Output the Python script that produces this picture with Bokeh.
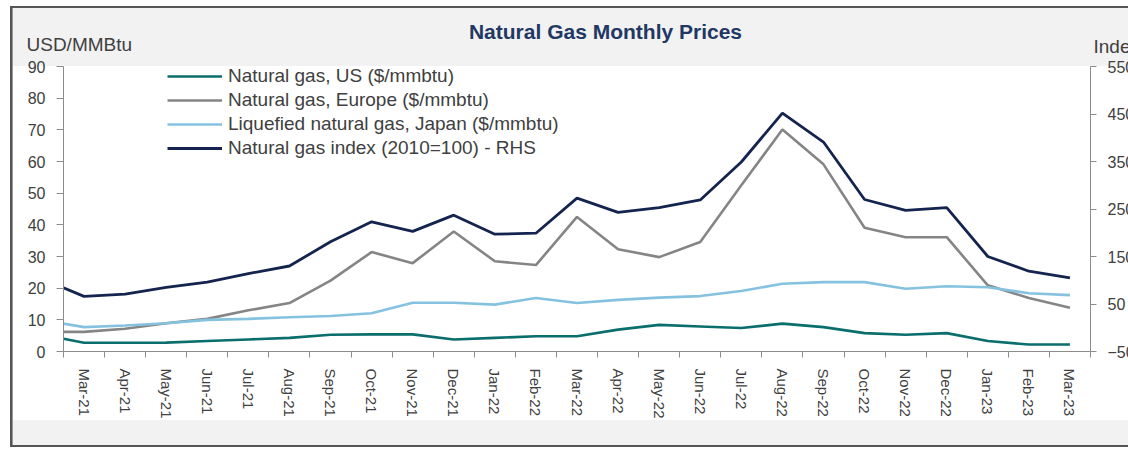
from bokeh.plotting import figure
from bokeh.models import (Range1d, LinearAxis, FixedTicker, Legend, LegendItem, Label, BoxAnnotation)
from bokeh.embed import file_html
from bokeh.resources import INLINE

months = ["Feb-21", "Mar-21", "Apr-21", "May-21", "Jun-21", "Jul-21", "Aug-21", "Sep-21",
          "Oct-21", "Nov-21", "Dec-21", "Jan-22", "Feb-22", "Mar-22", "Apr-22", "May-22",
          "Jun-22", "Jul-22", "Aug-22", "Sep-22", "Oct-22", "Nov-22", "Dec-22", "Jan-23",
          "Feb-23", "Mar-23"]
gas_us = [5.3, 2.75, 2.75, 2.8, 3.3, 3.8, 4.3, 5.3, 5.4, 5.4, 3.8, 4.3, 4.8, 4.8, 6.9, 8.4,
          7.9, 7.4, 8.8, 7.7, 5.8, 5.3, 5.8, 3.3, 2.2, 2.2]
gas_europe = [6.2, 6.2, 7.2, 8.9, 10.3, 13.0, 15.3, 22.4, 31.4, 27.9, 37.9, 28.5, 27.3, 42.5,
              32.3, 29.8, 34.6, 52.5, 70.1, 59.1, 39.1, 36.1, 36.1, 20.9, 16.9, 13.8]
lng_japan = [9.9, 7.7, 8.2, 8.9, 10.0, 10.3, 10.8, 11.2, 12.1, 15.4, 15.4, 14.8, 16.9, 15.3,
             16.3, 17.0, 17.5, 19.1, 21.4, 21.9, 21.9, 19.8, 20.6, 20.3, 18.4, 17.8]
gas_index = [102, 66, 71, 85, 96, 114, 130, 181, 223, 203, 237, 197, 199, 273, 243, 253,
             269, 349, 452, 391, 270, 247, 253, 150, 119, 105]

left_ticks = [0, 10, 20, 30, 40, 50, 60, 70, 80, 90]
right_ticks = [-50, 50, 150, 250, 350, 450, 550]

series_names = ["Natural gas, US ($/mmbtu)", "Natural gas, Europe ($/mmbtu)",
                "Liquefied natural gas, Japan ($/mmbtu)", "Natural gas index (2010=100) - RHS"]
colors = ["#0a6e6c", "#858585", "#85c2e0", "#14244f"]

xs = list(range(-1, len(months) - 1))  # Feb-21 sits one slot before Mar-21 (hidden left of axis)
n_shown = len(months) - 1

FONT = "Liberation Sans"

# ---- layout (pixels) ----
W, H = 1128, 450
frame_l, frame_t = 13, 8                       # drawing frame covers the whole chart area
axis_l, axis_r, axis_t, axis_b = 63, 1090, 66, 351   # where the visible axes sit
cat_px = (axis_r - axis_l) / n_shown
y_px = (axis_b - axis_t) / 90.0
x_start = -0.5 - (axis_l - frame_l) / cat_px
x_end = n_shown - 0.5 + (W - axis_r) / cat_px
y_start = -(H - axis_b) / y_px
y_end = (axis_b - frame_t) / y_px
idx_k = 600 / 90.0
idx_start = -50 + y_start * idx_k
idx_end = -50 + y_end * idx_k

bg = ("linear-gradient(#555555,#555555) 10px 6px / 2px 441px no-repeat, "
      "linear-gradient(#9a9a9a,#9a9a9a) 12px 8px / 1px 437px no-repeat, "
      "linear-gradient(#555555,#555555) 10px 6px / 1118px 2px no-repeat, "
      "linear-gradient(#555555,#555555) 10px 445px / 1118px 2px no-repeat, "
      "linear-gradient(#f2f2f2,#f2f2f2) 13px 8px / 1115px 58px no-repeat, "
      "linear-gradient(#f2f2f2,#f2f2f2) 13px 420px / 1115px 25px no-repeat, "
      "#ffffff")

p = figure(width=W, height=H, output_backend="svg", toolbar_location=None,
           x_range=Range1d(x_start, x_end), y_range=Range1d(y_start, y_end),
           min_border_left=frame_l, min_border_right=0, min_border_top=frame_t,
           min_border_bottom=0, styles={"background": bg})
p.border_fill_alpha = 0
p.background_fill_alpha = 0
p.outline_line_color = None
p.grid.visible = False
p.extra_y_ranges = {"idx": Range1d(idx_start, idx_end)}

axis_color = "#8c8c8c"
label_color = "#404040"

# left axis (fixed at the left edge of the month slots)
yl = p.yaxis[0]
yl.fixed_location = -0.5
yl.bounds = (0, 90)
yl.ticker = FixedTicker(ticks=left_ticks)
yl.axis_line_color = axis_color
yl.major_tick_line_color = axis_color
yl.major_tick_out = 7
yl.major_tick_in = 0
yl.minor_tick_line_color = None
yl.major_label_standoff = 11
yl.major_label_text_font = FONT
yl.major_label_text_font_size = "16px"
yl.major_label_text_color = label_color

# right axis
yr = LinearAxis(y_range_name="idx", ticker=FixedTicker(ticks=right_ticks),
                fixed_location=n_shown - 0.5, bounds=(-50, 550))
yr.axis_line_color = axis_color
yr.major_tick_line_color = axis_color
yr.major_tick_out = 6
yr.major_tick_in = 0
yr.minor_tick_line_color = None
yr.major_label_standoff = 11
yr.major_label_text_font = FONT
yr.major_label_text_font_size = "16px"
yr.major_label_text_color = label_color
p.add_layout(yr, "right")

# bottom axis: labels at month centres, ticks between months
xa = p.xaxis[0]
centres = list(range(n_shown))
bounds = [c - 0.5 for c in range(n_shown + 1)]
xa.fixed_location = 0
xa.bounds = (-0.5, n_shown - 0.5)
xa.ticker = FixedTicker(ticks=centres, minor_ticks=bounds)
xa.major_label_overrides = {c: months[c + 1] for c in centres}
xa.major_label_orientation = "vertical"
xa.axis_line_color = axis_color
xa.major_tick_line_color = None
xa.major_tick_out = 0
xa.major_tick_in = 0
xa.minor_tick_line_color = axis_color
xa.minor_tick_out = 6
xa.minor_tick_in = 0
xa.major_label_standoff = 11
xa.major_label_text_font = FONT
xa.major_label_text_font_size = "15px"
xa.major_label_text_color = label_color

r_us = p.line(xs, gas_us, line_color=colors[0], line_width=2.6, level="underlay")
r_eu = p.line(xs, gas_europe, line_color=colors[1], line_width=2.6, level="underlay")
r_jp = p.line(xs, lng_japan, line_color=colors[2], line_width=2.6, level="underlay")
r_ix = p.line(xs, gas_index, line_color=colors[3], line_width=2.8, y_range_name="idx",
              level="underlay")

# white mask left of the value axis (the Feb-21 lead-in is cut at the axis, as in Excel)
p.add_layout(BoxAnnotation(right=-0.5, top=90, bottom=0, fill_color="#ffffff", fill_alpha=1.0,
                           line_alpha=0, level="glyph"))

legend = Legend(items=[LegendItem(label=series_names[0], renderers=[r_us]),
                       LegendItem(label=series_names[1], renderers=[r_eu]),
                       LegendItem(label=series_names[2], renderers=[r_jp]),
                       LegendItem(label=series_names[3], renderers=[r_ix])],
                location=(167 - frame_l, H - 160), orientation="vertical",
                border_line_alpha=0, background_fill_alpha=0,
                padding=0, margin=0, spacing=0, label_standoff=6,
                glyph_width=55, glyph_height=24, label_height=24,
                label_text_font=FONT, label_text_font_size="19px",
                label_text_color=label_color)
p.add_layout(legend, "center")

p.add_layout(Label(x=605 - frame_l, y=H - 31, x_units="screen", y_units="screen",
                   text="Natural Gas Monthly Prices", text_align="center",
                   text_baseline="middle", text_font=FONT, text_font_size="21px",
                   text_font_style="bold", text_color="#1f3864"))
p.add_layout(Label(x=26 - frame_l, y=H - 44, x_units="screen", y_units="screen",
                   text="USD/MMBtu", text_align="left", text_baseline="middle",
                   text_font=FONT, text_font_size="19px", text_color=label_color))
p.add_layout(Label(x=1093 - frame_l, y=H - 46, x_units="screen", y_units="screen",
                   text="Index", text_align="left", text_baseline="middle",
                   text_font=FONT, text_font_size="19px", text_color=label_color))

open("out.html", "w").write(file_html(p, INLINE))
